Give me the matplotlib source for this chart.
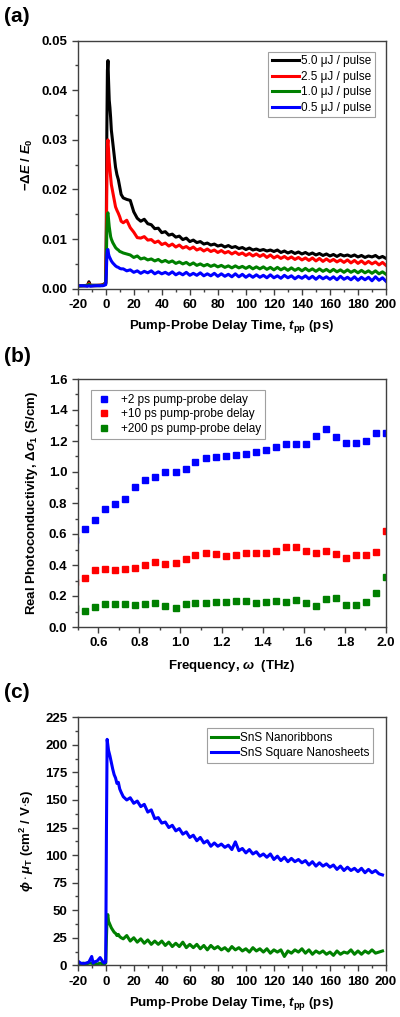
import numpy as np
import matplotlib
matplotlib.use("Agg")
import matplotlib.pyplot as plt
from matplotlib.ticker import MultipleLocator

plt.rcParams['font.family'] = ['Liberation Sans', 'DejaVu Sans']
plt.rcParams['font.weight'] = 'bold'
plt.rcParams['axes.labelweight'] = 'bold'
plt.rcParams['axes.unicode_minus'] = False
plt.rcParams['mathtext.fontset'] = 'custom'
plt.rcParams['mathtext.rm'] = 'Liberation Sans:bold'
plt.rcParams['mathtext.it'] = 'Liberation Sans:italic:bold'
plt.rcParams['mathtext.bf'] = 'Liberation Sans:bold'

# ---------- (a) transient THz transmission, values in units of 1e-3 ----------
t_a_early = [-20, -16, -13, -12, -11, -8, -4, -2, -1, 0, 0.4, 0.8, 1.2, 1.6, 2.0,
             2.5, 3, 3.5, 4, 5, 6, 7, 8, 9, 10, 11]
t_a_tail = np.arange(12.5, 200.01, 2.5)
t_a = np.concatenate([t_a_early, t_a_tail])

p50 = [0.6, 0.6, 0.7, 1.4, 0.7, 0.7, 0.7, 0.8, 1.0, 1.2, 12, 32, 44, 46, 42, 38, 36.5, 34.5, 32, 29.5,
       27, 24.5, 23, 22, 20.5, 19,
       18.3, 18.0, 17.8, 15.5, 14.2, 13.6, 14.0, 13.1, 12.9, 12.1,
       12.2, 11.3, 11.5, 10.8, 11.0, 10.4, 10.6, 9.9, 10.2, 9.5,
       9.8, 9.3, 9.5, 9.0, 9.2, 8.8, 9.0, 8.6, 8.8, 8.4,
       8.7, 8.3, 8.5, 8.1, 8.3, 7.9, 8.2, 7.8, 8.0, 7.7,
       7.9, 7.6, 7.8, 7.5, 7.8, 7.3, 7.6, 7.2, 7.5, 7.1,
       7.4, 7.0, 7.3, 6.9, 7.2, 6.8, 7.1, 6.7, 7.0, 6.6,
       6.9, 6.5, 6.9, 6.6, 6.8, 6.5, 6.8, 6.4, 6.7, 6.3,
       6.6, 6.4, 6.7, 6.2, 6.5, 6.1]
p25 = [0.6, 0.6, 0.6, 1.1, 0.6, 0.6, 0.7, 0.7, 0.9, 1.1, 8, 22, 29, 30, 28, 25.5, 24, 22.5, 21, 19.5,
       18, 16.5, 15.8, 15.2, 14.5, 13.6,
       13.3, 13.8, 12.3, 11.4, 10.3, 10.2, 10.5, 9.8, 9.9, 9.3,
       9.6, 8.9, 9.2, 8.6, 9.0, 8.4, 8.8, 8.2, 8.5, 8.0,
       8.4, 7.8, 8.1, 7.6, 8.0, 7.5, 7.8, 7.3, 7.7, 7.2,
       7.5, 7.0, 7.4, 6.9, 7.2, 6.7, 7.1, 6.6, 7.0, 6.5,
       6.9, 6.3, 6.8, 6.2, 6.6, 6.1, 6.5, 6.0, 6.4, 5.9,
       6.3, 5.8, 6.2, 5.7, 6.2, 5.6, 6.1, 5.5, 6.0, 5.5,
       5.9, 5.4, 5.8, 5.3, 5.8, 5.2, 5.7, 5.1, 5.6, 5.0,
       5.5, 5.0, 5.4, 4.8, 5.3, 4.7]
p10 = [0.5, 0.6, 0.6, 0.9, 0.6, 0.6, 0.6, 0.7, 0.8, 1.0, 5, 12, 15, 15.3, 14, 12.5, 11.5, 10.5, 10, 9.3,
       8.8, 8.3, 8.0, 7.8, 7.5, 7.4,
       7.2, 7.0, 6.8, 6.3, 6.6, 6.0, 6.2, 5.8, 6.0, 5.6,
       5.9, 5.4, 5.7, 5.3, 5.6, 5.1, 5.4, 5.0, 5.3, 4.8,
       5.2, 4.7, 5.0, 4.6, 4.9, 4.5, 4.8, 4.4, 4.7, 4.3,
       4.6, 4.2, 4.6, 4.2, 4.5, 4.1, 4.5, 4.0, 4.4, 4.0,
       4.4, 3.9, 4.3, 3.8, 4.3, 3.8, 4.2, 3.7, 4.2, 3.7,
       4.1, 3.6, 4.1, 3.6, 4.0, 3.5, 4.0, 3.5, 3.9, 3.4,
       3.9, 3.4, 3.8, 3.3, 3.8, 3.3, 3.7, 3.2, 3.7, 3.2,
       3.6, 3.1, 3.6, 3.0, 3.4, 2.9]
p05 = [0.6, 0.6, 0.5, 0.6, 0.5, 0.6, 0.6, 0.6, 0.7, 0.8, 3, 6.5, 7.8, 7.9, 7.0, 6.5, 6.2, 5.9, 5.6, 5.2,
       4.9, 4.6, 4.4, 4.3, 4.1, 4.0,
       4.0, 3.6, 3.8, 3.3, 3.6, 3.1, 3.5, 3.2, 3.6, 3.0,
       3.4, 3.0, 3.3, 2.9, 3.4, 2.8, 3.2, 2.8, 3.3, 2.7,
       3.1, 2.7, 3.2, 2.6, 3.0, 2.6, 3.1, 2.5, 3.0, 2.5,
       2.9, 2.4, 3.0, 2.4, 2.9, 2.3, 2.8, 2.3, 2.8, 2.3,
       2.7, 2.2, 2.8, 2.2, 2.6, 2.1, 2.7, 2.2, 2.6, 2.0,
       2.5, 2.1, 2.6, 2.0, 2.5, 1.9, 2.5, 2.0, 2.4, 1.9,
       2.4, 1.8, 2.5, 1.9, 2.3, 1.8, 2.4, 1.7, 2.3, 1.8,
       2.3, 1.6, 2.4, 1.7, 2.2, 1.5]
series_a = [(p50, 'black', '5.0 \u03bcJ / pulse'),
            (p25, '#ff0000', '2.5 \u03bcJ / pulse'),
            (p10, '#008000', '1.0 \u03bcJ / pulse'),
            (p05, '#0000ff', '0.5 \u03bcJ / pulse')]

# ---------- (b) photoconductivity spectra ----------
freq = [0.487, 0.536, 0.585, 0.634, 0.683, 0.732, 0.780, 0.829, 0.878, 0.927, 0.976,
        1.025, 1.073, 1.122, 1.171, 1.220, 1.269, 1.318, 1.366, 1.415, 1.464,
        1.513, 1.562, 1.611, 1.659, 1.708, 1.757, 1.806, 1.855, 1.904, 1.952, 2.001]
sig_2ps = [0.56, 0.630, 0.690, 0.759, 0.796, 0.824, 0.903, 0.951, 0.970, 0.998, 1.000,
           1.017, 1.067, 1.092, 1.097, 1.103, 1.110, 1.118, 1.129, 1.144, 1.163,
           1.183, 1.181, 1.178, 1.232, 1.275, 1.228, 1.187, 1.185, 1.202, 1.254, 1.249]
sig_10ps = [0.29, 0.314, 0.370, 0.376, 0.366, 0.376, 0.383, 0.402, 0.417, 0.409, 0.413,
            0.439, 0.467, 0.480, 0.469, 0.460, 0.467, 0.477, 0.475, 0.475, 0.492,
            0.514, 0.516, 0.492, 0.477, 0.490, 0.473, 0.443, 0.462, 0.462, 0.486, 0.622]
sig_200ps = [0.12, 0.103, 0.131, 0.146, 0.146, 0.148, 0.142, 0.146, 0.157, 0.133, 0.123,
             0.148, 0.157, 0.157, 0.161, 0.159, 0.168, 0.168, 0.157, 0.161, 0.168,
             0.163, 0.174, 0.157, 0.135, 0.181, 0.189, 0.144, 0.142, 0.163, 0.217, 0.323]
series_b = [(sig_2ps, '#0000ff', '+2 ps pump-probe delay'),
            (sig_10ps, '#ff0000', '+10 ps pump-probe delay'),
            (sig_200ps, '#008000', '+200 ps pump-probe delay')]

# ---------- (c) effective mobility ----------
t_c_early = [-20, -18, -16, -14, -12, -10, -9, -8, -6, -4, -2, -1, 0, 0.5, 1, 1.5,
             2, 3, 4, 5, 6, 7, 8, 9, 10, 11]
t_c_tail = np.arange(12.5, 197.51, 2.5)
t_c = np.concatenate([t_c_early, t_c_tail])

mob_ribbons = [2, 1, 2, 1, 2, 2, 1, 2, 1, 2, 1, 1, 2, 25, 44, 46, 40, 37, 34, 32,
               30, 29, 27, 28, 26, 25,
               24, 27, 22, 25, 21, 24, 20, 23, 19, 22,
               19, 22, 18, 21, 17, 20, 17, 21, 16, 19,
               16, 19, 15, 18, 14, 18, 15, 17, 14, 16,
               13, 17, 14, 16, 13, 15, 12, 16, 13, 15,
               12, 15, 11, 14, 12, 14, 8, 13, 11, 14,
               12, 15, 11, 14, 10, 13, 11, 13, 10, 12,
               9, 13, 10, 12, 11, 14, 10, 13, 10, 13,
               11, 14, 11, 12, 13]
mob_sheets = [4, 2, 1.5, 2, 3, 8, 2, 3, 4, 7, 3, 2, 3, 120, 205, 200, 195, 190, 184, 178,
              173, 170, 165, 166, 160, 157,
              153, 150, 152, 147, 149, 144, 146, 139, 141, 133,
              134, 129, 130, 125, 127, 122, 124, 119, 121, 116,
              118, 113, 116, 111, 113, 108, 111, 108, 110, 107,
              109, 105, 112, 104, 106, 102, 105, 101, 103, 99,
              101, 98, 101, 96, 99, 95, 98, 94, 97, 94,
              96, 93, 95, 91, 94, 90, 93, 90, 92, 89,
              91, 87, 90, 86, 89, 86, 88, 85, 88, 84,
              87, 84, 86, 83, 82]
series_c = [(mob_ribbons, '#008000', 'SnS Nanoribbons'),
            (mob_sheets, '#0000ff', 'SnS Square Nanosheets')]

tpp_label = 'Pump-Probe Delay Time, $t_{\\mathrm{pp}}$ (ps)'

fig = plt.figure(figsize=(4, 10.17), dpi=100)
W, H = 400.0, 1017.0


def make_axes(top_px):
    ax = fig.add_axes([77.7 / W, 1 - (top_px + 248) / H, 308.3 / W, 248 / H])
    for s in ax.spines.values():
        s.set_color('#404040')
        s.set_linewidth(1.0)
    ax.tick_params(which='both', direction='out', top=False, right=False,
                   width=1.0, color='#404040', labelsize=9.5)
    ax.tick_params(which='major', length=4)
    ax.tick_params(which='minor', length=2.5)
    return ax


def leg_style(ax, **kw):
    opts = dict(prop={'size': 8.5, 'weight': 'normal'}, fancybox=False,
                framealpha=1, edgecolor='#a0a0a0', borderpad=0.3,
                labelspacing=0.3, borderaxespad=0)
    opts.update(kw)
    lg = ax.legend(**opts)
    lg.get_frame().set_linewidth(0.8)
    return lg


# panel (a)
ax1 = make_axes(40.7)
for vals, col, lab in series_a:
    ax1.plot(t_a, np.array(vals) * 1e-3, color=col, lw=2.2, label=lab)
ax1.set_xlim(-20, 200)
ax1.set_ylim(0, 0.05)
ax1.xaxis.set_major_locator(MultipleLocator(20))
ax1.xaxis.set_minor_locator(MultipleLocator(10))
ax1.yaxis.set_major_locator(MultipleLocator(0.01))
ax1.yaxis.set_minor_locator(MultipleLocator(0.005))
ax1.yaxis.set_major_formatter(plt.FormatStrFormatter('%.2f'))
ax1.set_xlabel(tpp_label, fontsize=9.5)
ax1.set_ylabel('$-\\Delta E$ / $E_0$', fontsize=9.5)
ax1.xaxis.set_label_coords(0.5, -0.118)
ax1.yaxis.set_label_coords(-0.138, 0.5)
leg_style(ax1, loc='upper right', bbox_to_anchor=(0.964, 0.956),
          handlelength=2.3, handletextpad=0.2)

# panel (b)
ax2 = make_axes(379)
for vals, col, lab in series_b:
    ax2.plot(freq, vals, ls='none', marker='s', ms=4.2, color=col,
             mec=col, label=lab)
ax2.set_xlim(0.5, 2.0)
ax2.set_ylim(0, 1.6)
ax2.xaxis.set_major_locator(MultipleLocator(0.2))
ax2.xaxis.set_minor_locator(MultipleLocator(0.1))
ax2.yaxis.set_major_locator(MultipleLocator(0.2))
ax2.yaxis.set_minor_locator(MultipleLocator(0.1))
ax2.xaxis.set_major_formatter(plt.FormatStrFormatter('%.1f'))
ax2.yaxis.set_major_formatter(plt.FormatStrFormatter('%.1f'))
ax2.set_xlabel('Frequency, $\\omega$  (THz)', fontsize=9.5)
ax2.set_ylabel('Real Photoconductivity, $\\Delta\\sigma_1$ (S/cm)', fontsize=9.5)
ax2.xaxis.set_label_coords(0.5, -0.125)
ax2.yaxis.set_label_coords(-0.122, 0.5)
leg_style(ax2, loc='upper left', bbox_to_anchor=(0.042, 0.956),
          handlelength=1.6, handletextpad=0.6, borderpad=0.35,
          labelspacing=0.2)

# panel (c)
ax3 = make_axes(717.3)
for vals, col, lab in series_c:
    ax3.plot(t_c, vals, color=col, lw=2.2, label=lab)
ax3.set_xlim(-20, 200)
ax3.set_ylim(0, 225)
ax3.xaxis.set_major_locator(MultipleLocator(20))
ax3.xaxis.set_minor_locator(MultipleLocator(10))
ax3.yaxis.set_major_locator(MultipleLocator(25))
ax3.yaxis.set_minor_locator(MultipleLocator(12.5))
ax3.set_xlabel(tpp_label, fontsize=9.5)
ax3.set_ylabel('$\\phi\\cdot\\mu_{\\mathrm{T}}$ (cm$^2$ / V$\\cdot$s)', fontsize=9.5)
ax3.xaxis.set_label_coords(0.5, -0.12)
ax3.yaxis.set_label_coords(-0.135, 0.5)
leg_style(ax3, loc='upper right', bbox_to_anchor=(0.959, 0.956),
          handlelength=2.3, handletextpad=0.2)

for lab, ypx in [('(a)', 17), ('(b)', 357), ('(c)', 693)]:
    fig.text(4 / W, 1 - ypx / H, lab, fontsize=15, fontweight='bold', va='center')

fig.savefig('out.png', dpi=100)
